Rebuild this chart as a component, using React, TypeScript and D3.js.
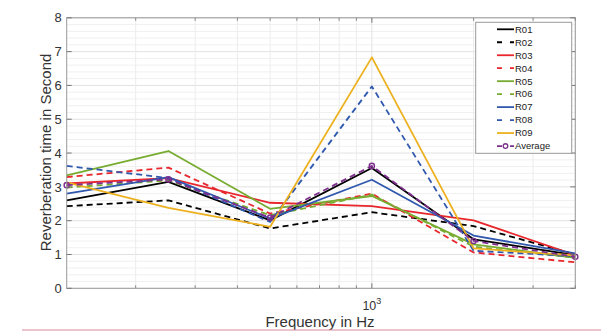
import React from "react";
import * as d3 from "d3";

const freqs = [125, 250, 500, 1000, 2000, 4000];
const seriesNames = ["R01", "R02", "R03", "R04", "R05", "R06", "R07", "R08", "R09", "Average"];
const R01 = [2.60, 3.15, 2.01, 3.56, 1.45, 0.98];
const R02 = [2.43, 2.60, 1.77, 2.25, 1.84, 1.00];
const R03 = [3.10, 3.26, 2.53, 2.43, 2.01, 0.98];
const R04 = [3.29, 3.57, 2.21, 2.80, 1.06, 0.77];
const R05 = [3.34, 4.06, 2.35, 2.73, 1.30, 0.90];
const R06 = [2.98, 3.19, 2.16, 2.77, 1.23, 0.91];
const R07 = [2.80, 3.29, 2.06, 3.21, 1.56, 1.03];
const R08 = [3.62, 3.26, 1.96, 5.97, 1.11, 0.95];
const R09 = [3.13, 2.38, 1.82, 6.83, 1.18, 0.97];
const Average = [3.05, 3.22, 2.09, 3.62, 1.40, 0.93];
const seriesValues = [R01, R02, R03, R04, R05, R06, R07, R08, R09, Average];
const seriesColors = ["#000000", "#000000", "#e8262c", "#e8262c", "#77ac30", "#77ac30", "#2f58ae", "#2f58ae", "#edb120", "#7e2f8e"];
const seriesDashed = [false, true, false, true, false, true, false, true, false, true];
const yTicks = [0, 1, 2, 3, 4, 5, 6, 7, 8];
const xMinor = [200, 300, 400, 500, 600, 700, 800, 900, 2000, 3000, 4000];
const xMajor = [1000];

const W = 601, H = 332;
const L = 66.7, R = 575.3, T = 17.8, B = 288.3;
const FONT = "'Liberation Sans', Arial, Helvetica, sans-serif";

export default function App() {
  const x = d3.scaleLog().domain([125, 4000]).range([L, R]);
  const y = d3.scaleLinear().domain([0, 8]).range([B, T]);
  const line = d3.line<number>().x((_, i) => x(freqs[i])).y((d) => y(d));
  const yMinor = d3.range(0, 8.001, 0.2).filter((v) => Math.abs(v - Math.round(v)) > 0.01);

  const legX = 475.7, legY = 22.3, legW = 96, legH = 131;
  const rowY = (i: number) => 29.3 + i * 12.97;

  return (
    <svg width={W} height={H} style={{ position: "absolute", left: 0, top: 0, background: "#fff" }} fontFamily={FONT}>
      <rect x={0} y={0} width={W} height={H} fill="#fff" />
      {/* grid */}
      {yMinor.map((v, i) => (
        <line key={"ym" + i} x1={L} x2={R} y1={y(v)} y2={y(v)} stroke="#f0f0f0" strokeWidth={1} />
      ))}
      {yTicks.map((v) => (
        <line key={"yg" + v} x1={L} x2={R} y1={y(v)} y2={y(v)} stroke="#e2e2e2" strokeWidth={1} />
      ))}
      {xMinor.map((v) => (
        <line key={"xm" + v} x1={x(v)} x2={x(v)} y1={T} y2={B} stroke="#ececec" strokeWidth={1} />
      ))}
      {xMajor.map((v) => (
        <line key={"xg" + v} x1={x(v)} x2={x(v)} y1={T} y2={B} stroke="#e2e2e2" strokeWidth={1} />
      ))}
      {/* series */}
      {seriesValues.map((vals, s) => (
        <path key={"s" + s} d={line(vals) || ""} fill="none" stroke={seriesColors[s]} strokeWidth={1.8}
          strokeDasharray={seriesDashed[s] ? "6,4" : undefined} strokeLinejoin="round" />
      ))}
      {Average.map((v, i) => (
        <circle key={"m" + i} cx={x(freqs[i])} cy={y(v)} r={2.6} fill="none" stroke="#7e2f8e" strokeWidth={1.4} />
      ))}
      {/* frame */}
      <rect x={L} y={T} width={R - L} height={B - T} fill="none" stroke="#9a9a9a" strokeWidth={1} />
      {yTicks.map((v) => (
        <g key={"yt" + v}>
          <line x1={L} x2={L + 5} y1={y(v)} y2={y(v)} stroke="#777" />
          <line x1={R} x2={R - 5} y1={y(v)} y2={y(v)} stroke="#777" />
          <text x={L - 5} y={y(v)} dy="0.36em" textAnchor="end" fontSize={13} fill="#333">{v}</text>
        </g>
      ))}
      {xMinor.map((v) => (
        <g key={"xt" + v}>
          <line x1={x(v)} x2={x(v)} y1={B} y2={B - 3} stroke="#888" />
          <line x1={x(v)} x2={x(v)} y1={T} y2={T + 3} stroke="#888" />
        </g>
      ))}
      {xMajor.map((v) => (
        <g key={"xT" + v}>
          <line x1={x(v)} x2={x(v)} y1={B} y2={B - 5} stroke="#777" />
          <line x1={x(v)} x2={x(v)} y1={T} y2={T + 5} stroke="#777" />
          <text x={x(v)} y={310} textAnchor="middle" fontSize={12.5} fill="#333">
            10<tspan fontSize={9} dy={-6}>3</tspan>
          </text>
        </g>
      ))}
      {/* axis labels */}
      <text x={320} y={327} textAnchor="middle" fontSize={15} fill="#333">Frequency in Hz</text>
      <text transform={`translate(50.5,152.5) rotate(-90)`} textAnchor="middle" fontSize={15} fill="#333">Reverberation time in Second</text>
      {/* legend */}
      <rect x={legX} y={legY} width={legW} height={legH} fill="#fff" stroke="#9a9a9a" strokeWidth={1} />
      {seriesNames.map((name, i) => (
        <g key={"lg" + i}>
          <line x1={497} x2={514} y1={rowY(i)} y2={rowY(i)} stroke={seriesColors[i]} strokeWidth={1.8}
            strokeDasharray={seriesDashed[i] ? "5,8,4" : undefined} />
          {name === "Average" && (
            <circle cx={505.5} cy={rowY(i)} r={2.3} fill="#fff" stroke="#7e2f8e" strokeWidth={1.3} />
          )}
          <text x={515} y={rowY(i)} dy="0.35em" fontSize={9.5} fill="#222">{name}</text>
        </g>
      ))}
      {/* bottom rule */}
      <line x1={22} x2={601} y1={330} y2={330} stroke="#d98a9c" strokeWidth={1.2} />
    </svg>
  );
}
